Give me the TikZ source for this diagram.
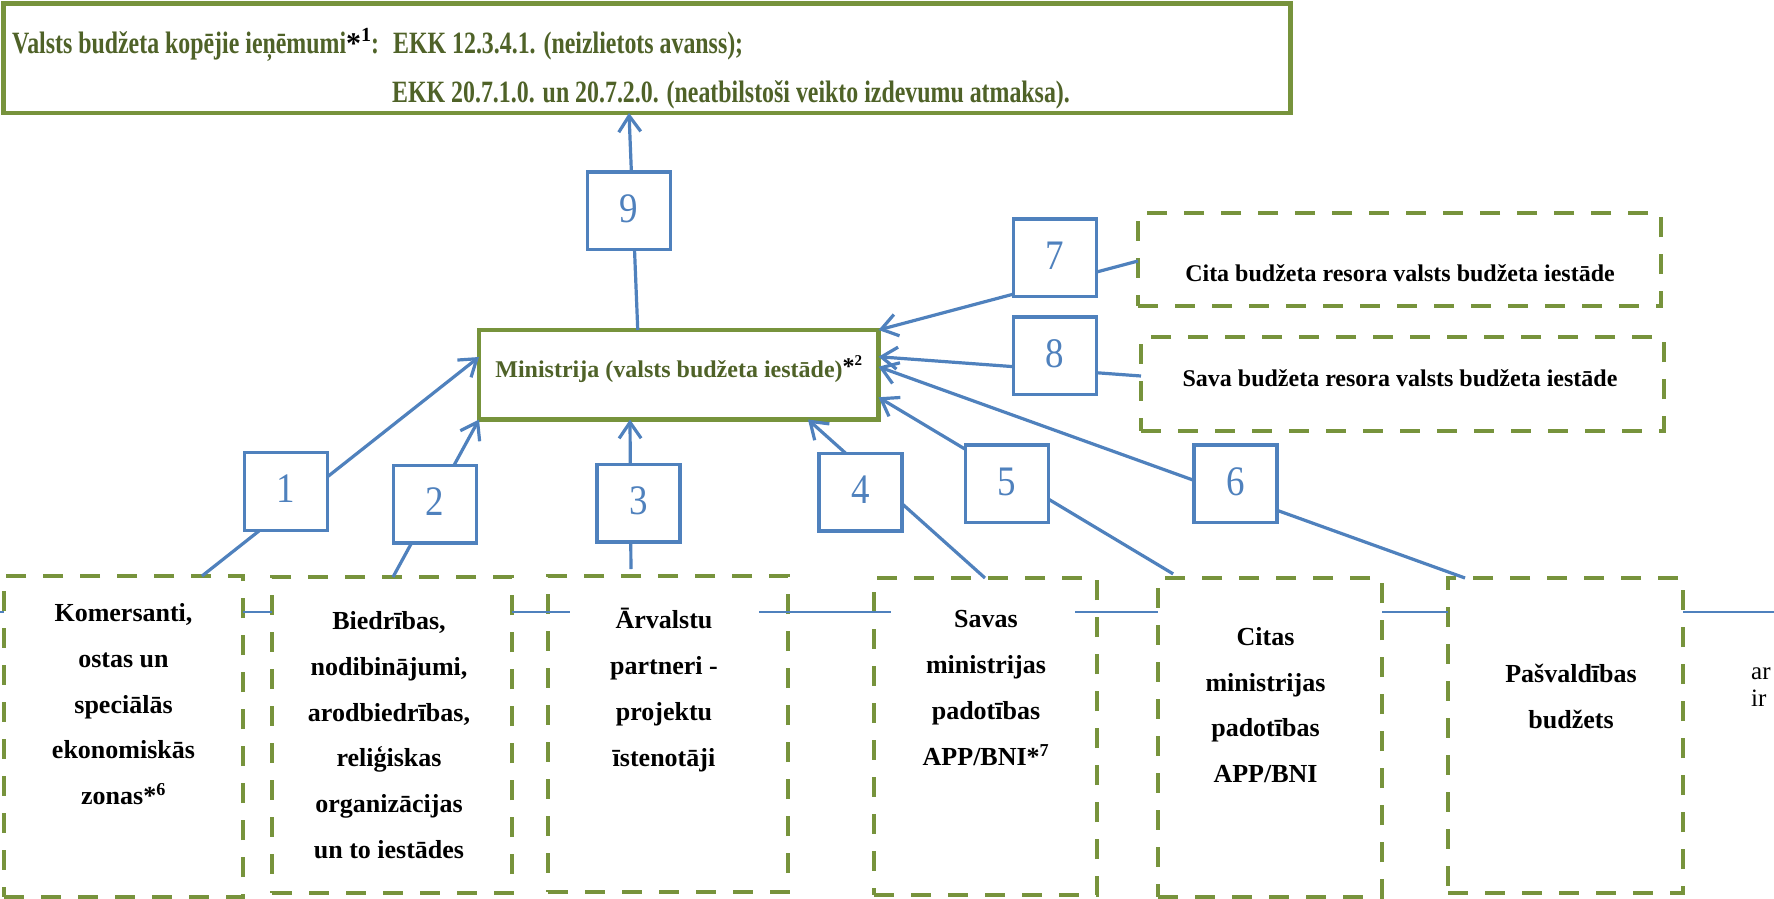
\documentclass[tikz,border=0pt]{standalone}
\usepackage{fontspec}
\setmainfont{Liberation Serif}
\newfontfamily\condfont[FakeStretch=0.77]{Liberation Serif}
\newfontfamily\numfont[FakeStretch=0.88]{Liberation Serif}
\usetikzlibrary{arrows.meta,calc}
\definecolor{ogreen}{HTML}{77933C}
\definecolor{dgreen}{HTML}{4F6228}
\definecolor{oblue}{HTML}{4F81BD}
\tikzset{
  solidbox/.style={draw=ogreen, line width=4.6pt, rectangle, inner sep=0pt, outer sep=0pt},
  dashbox/.style={draw=ogreen, line width=4.6pt, dash pattern=on 20pt off 17pt, rectangle, inner sep=0pt, outer sep=0pt},
  numbox/.style={draw=oblue, line width=3.4pt, fill=white, rectangle, inner sep=0pt, outer sep=0pt,
    minimum width=83pt, minimum height=77.6pt, text=oblue,
    font=\numfont\fontsize{42}{42}\selectfont, text height=28.4pt, text depth=6pt},
  conn/.style={draw=oblue, line width=3.2pt},
  arr/.style={conn, -{Straight Barb[length=16pt,width=22pt]}},
  hline/.style={draw=oblue, line width=2.7pt},
  boxtext/.style={font=\bfseries\fontsize{26}{45.8}\selectfont, align=center, inner sep=0pt, anchor=north},
  sidetext/.style={font=\bfseries\fontsize{24}{24}\selectfont, inner sep=0pt, anchor=base},
  toptext/.style={text=dgreen, font=\condfont\bfseries\fontsize{31}{31}\selectfont, inner sep=0pt, anchor=base west},
}
\begin{document}
\begin{tikzpicture}[x=1pt,y=-1pt]
\useasboundingbox (0,0) rectangle (1774,899);
\fill[white] (0,0) rectangle (1774,899);

% main boxes
\node[solidbox, minimum width=1287pt, minimum height=109.5pt] (top) at (647,58.25) {};
\node[solidbox, minimum width=399.5pt, minimum height=89.5pt, text=dgreen,
  font=\bfseries\fontsize{24}{24}\selectfont, text height=17pt, text depth=12pt] (min) at (678.75,374.75)
  {Ministrija (valsts budžeta iestāde){\color{black}\raisebox{3pt}{*}\raisebox{12pt}{\fontsize{15}{15}\selectfont 2}}};

\node[toptext] (t1) at (12,54) {Valsts budžeta kopējie ieņēmumi{\color{black}\normalfont\bfseries\fontsize{30}{30}\selectfont *\raisebox{12pt}{\fontsize{20}{20}\selectfont 1}}:\hspace{14pt}EKK 12.3.4.1. (neizlietots avanss);};
\node[toptext] (t2) at (392,102) {EKK 20.7.1.0. un 20.7.2.0. (neatbilstoši veikto izdevumu atmaksa).};

\node[dashbox, minimum width=523pt, minimum height=93pt] (Ci) at (1399.5,259.5) {};
\node[dashbox, minimum width=523pt, minimum height=94pt] (Sa) at (1402.5,384) {};
\node[sidetext] (Citx) at (1400,281.7) {Cita budžeta resora valsts budžeta iestāde};
\node[sidetext] (Satx) at (1400,386.7) {Sava budžeta resora valsts budžeta iestāde};

\node[dashbox, minimum width=239pt, minimum height=321pt] (K) at (123.5,736.5) {};
\node[dashbox, minimum width=240pt, minimum height=316pt] (B) at (392,735) {};
\node[dashbox, minimum width=240pt, minimum height=316pt] (A) at (668,734) {};
\node[dashbox, minimum width=223pt, minimum height=317pt] (S) at (985.5,736.5) {};
\node[dashbox, minimum width=224pt, minimum height=319pt] (C) at (1270,737.5) {};
\node[dashbox, minimum width=235pt, minimum height=315pt] (P) at (1565.5,735.5) {};

\node[boxtext] (Ktx) at (123.5,597.3) {\rule{0pt}{24pt}Komersanti,\\ostas un\\speciālās\\ekonomiskās\\zonas*\textsuperscript{6}};
\node[boxtext] (Btx) at (389,605.3) {\rule{0pt}{24pt}Biedrības,\\nodibinājumi,\\arodbiedrības,\\reliģiskas\\organizācijas\\un to iestādes};
\node[boxtext] (Atx) at (664,604.7) {\rule{0pt}{24pt}Ārvalstu\\partneri -\\projektu\\īstenotāji};
\node[boxtext] (Stx) at (986,603.7) {\rule{0pt}{24pt}Savas\\ministrijas\\padotības\\APP/BNI*\textsuperscript{7}};
\node[boxtext] (Ctx) at (1265.5,621) {\rule{0pt}{24pt}Citas\\ministrijas\\padotības\\APP/BNI};
\node[boxtext] (Ptx) at (1571,658.7) {\rule{0pt}{24pt}Pašvaldības\\budžets};

\node[anchor=base west, inner sep=0pt, font=\fontsize{25}{25}\selectfont] (ar) at (1751,679) {ar};
\node[anchor=base west, inner sep=0pt, font=\fontsize{25}{25}\selectfont] (ir) at (1751,706) {ir};

% horizontal line
\coordinate (hl) at (0,612);
\coordinate (hr) at (1774,612);
\draw[hline] (hl) -- (K.west |- hl);
\draw[hline] (K.east |- hl) -- (B.west |- hl);
\draw[hline] (B.east |- hl) -- ($(A.west |- hl)+(22,0)$);
\draw[hline] ($(A.east |- hl)+(-29,0)$) -- ($(S.west |- hl)+(17,0)$);
\draw[hline] ($(S.east |- hl)+(-22,0)$) -- (C.west |- hl);
\draw[hline] (C.east |- hl) -- (P.west |- hl);
\draw[hline] (P.east |- hl) -- (hr);

% connectors
\draw[arr] ([xshift=198pt]K.north west) -- ([yshift=17.75pt]min.west);
\draw[arr] ([xshift=121pt]B.north west) -- (min.south west);
\draw[arr, shorten <=7pt] ([xshift=83pt]A.north west) -- ([xshift=151pt]min.south west);
\draw[arr] ([xshift=111pt]S.north west) -- ([xshift=329pt]min.south west);
\draw[arr, shorten <=8pt] ([xshift=22pt]C.north west) -- ([yshift=-22.5pt]min.east);
\draw[arr] ([xshift=17pt]P.north west) -- ([yshift=8pt]min.east);
\draw[arr] ([yshift=-1.5pt]Ci.west) -- (min.north east);
\draw[arr] ([yshift=8pt]Sa.west) -- ([yshift=18pt]min.east);
\draw[arr] ([xshift=-41pt]min.north) -- ([xshift=-18pt]top.south);

% number boxes
\node[numbox] (n9) at (628.7,210.8) {9};
\node[numbox] (n1) at (286,491.5) {1};
\node[numbox] (n2) at (435,504) {2};
\node[numbox] (n3) at (638.3,503.3) {3};
\node[numbox] (n4) at (860.5,492.2) {4};
\node[numbox] (n5) at (1007,483.8) {5};
\node[numbox] (n6) at (1235.3,483.8) {6};
\node[numbox] (n7) at (1055,257.8) {7};
\node[numbox] (n8) at (1055,355.8) {8};
\end{tikzpicture}
\end{document}
